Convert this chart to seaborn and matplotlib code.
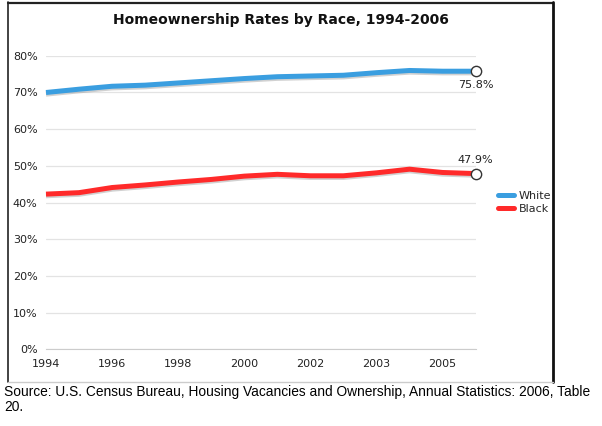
import matplotlib
matplotlib.use("Agg")
import matplotlib.pyplot as plt
import matplotlib.patheffects as pe
import seaborn as sns
import pandas as pd

# data: Table 20 has 2002 twice (old and new race definitions)
points = list(range(14))
years = ['1994', '1995', '1996', '1997', '1998', '1999', '2000', '2001',
         '2002', '2002', '2003', '2004', '2005', '2006']
white = [70.0, 70.9, 71.7, 72.0, 72.6, 73.2, 73.8, 74.3, 74.5, 74.7, 75.4, 76.0, 75.8, 75.8]
black = [42.3, 42.7, 44.1, 44.8, 45.6, 46.3, 47.2, 47.7, 47.3, 47.3, 48.1, 49.1, 48.2, 47.9]

df = pd.DataFrame({'pos': points * 2,
                   'rate': white + black,
                   'race': ['White'] * 14 + ['Black'] * 14})

sns.set_style('white')
plt.rcParams['font.family'] = ['DejaVu Sans']

fig = plt.figure(figsize=(6.02, 4.26), dpi=100)
ax = fig.add_axes([0.0764, 0.18, 0.7136, 0.689])

palette = {'White': '#3a9ee0', 'Black': '#ff2a2a'}
sns.lineplot(data=df, x='pos', y='rate', hue='race', palette=palette,
             linewidth=3.6, ax=ax, legend=False, clip_on=False)
for ln in ax.lines:
    ln.set_path_effects([pe.SimpleLineShadow(offset=(0, -1.2), shadow_color='#999999', alpha=0.45),
                         pe.Normal()])
    ln.set_solid_capstyle('butt')

# end markers
ax.scatter([points[-1], points[-1]], [white[-1], black[-1]], s=55, facecolor='white',
           edgecolor='#333333', linewidth=1.0, zorder=5, clip_on=False)
ax.text(points[-1], white[-1] - 2.5, f'{white[-1]:.1f}%', ha='center', va='top',
        fontsize=8, color='#222222')
ax.text(points[-1], black[-1] + 2.3, f'{black[-1]:.1f}%', ha='center', va='bottom',
        fontsize=8, color='#222222')

ax.set_xlim(0, 13)
ax.set_ylim(0, 80)
ax.set_yticks(range(0, 81, 10))
ax.set_yticklabels([f'{v}%' for v in range(0, 81, 10)], fontsize=8, color='#222222')
ax.set_xticks(points)
ax.set_xticklabels([years[i] if i % 2 == 0 and i < 13 else '' for i in points],
                   fontsize=8, color='#222222')
ax.tick_params(axis='x', length=4, color='#cccccc', width=0.8, pad=3)
ax.tick_params(axis='y', length=0, pad=6)
ax.grid(axis='y', color='#e3e3e3', linewidth=0.9)
ax.set_axisbelow(True)
for s in ['top', 'right', 'left']:
    ax.spines[s].set_visible(False)
ax.spines['bottom'].set_color('#cccccc')
ax.spines['bottom'].set_linewidth(0.8)
ax.set_xlabel('')
ax.set_ylabel('')

fig.text(0.467, 0.953, 'Homeownership Rates by Race, 1994-2006', ha='center', va='center',
         fontsize=10, fontweight='bold', color='#111111')

# legend
handles = [plt.Line2D([], [], color=palette[k], linewidth=3.6) for k in ['White', 'Black']]
fig.legend(handles, ['White', 'Black'], loc='center left', bbox_to_anchor=(0.81, 0.525),
           frameon=False, fontsize=8, handlelength=1.5, handletextpad=0.4, labelspacing=0.3)

# chart border
fig.add_artist(plt.Line2D([7.5 / 602, 7.5 / 602], [1 - 2 / 426, 1 - 382 / 426], color='#222222', lw=1.2))
fig.add_artist(plt.Line2D([7.5 / 602, 553 / 602], [1 - 2.5 / 426, 1 - 2.5 / 426], color='#222222', lw=1.6))
fig.add_artist(plt.Line2D([553 / 602, 553 / 602], [1 - 2 / 426, 1 - 382 / 426], color='#111111', lw=2.0))
fig.add_artist(plt.Line2D([7.5 / 602, 553 / 602], [1 - 382 / 426, 1 - 382 / 426], color='#cccccc', lw=1.0))

fig.text(4 / 602, 1 - 385 / 426,
         'Source: U.S. Census Bureau, Housing Vacancies and Ownership, Annual Statistics: 2006, Table\n20.',
         ha='left', va='top', fontsize=9.9, family='Liberation Sans', linespacing=1.05, color='black')

fig.savefig('out.png', dpi=100)
